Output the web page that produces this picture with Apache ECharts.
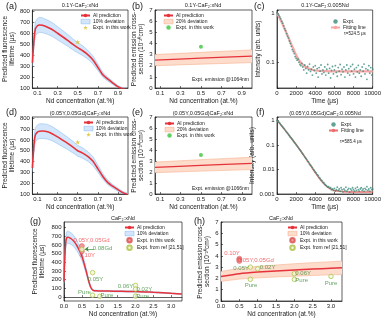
<!DOCTYPE html>
<html>
<head>
<meta charset="utf-8">
<title>Nd lifetime and cross-section</title>
<script src="https://cdn.jsdelivr.net/npm/echarts@6.0.0/dist/echarts.min.js"></script>
<style>
  html, body { margin: 0; padding: 0; background: #fff; }
  #chart { width: 384px; height: 319px; }
</style>
</head>
<body>
<div id="chart"></div>
<script>
// ---- values ----

// (a) 0.1Y-CaF2:xNd, predicted lifetime (us)
const aConc = [0.05, 0.06, 0.07, 0.08, 0.1, 0.12, 0.15, 0.2, 0.25, 0.3, 0.35, 0.4, 0.45, 0.5, 0.55, 0.6, 0.65, 0.7, 0.75, 0.8, 0.85, 0.9, 0.95, 1.0]
const aLife = [330, 470, 580, 640, 668, 675, 672, 655, 632, 600, 568, 535, 500, 468, 440, 405, 358, 290, 220, 180, 145, 112, 92, 80]
const aLifeHi = [365, 515, 640, 705, 735, 745, 740, 720, 695, 660, 625, 590, 550, 515, 485, 445, 395, 320, 242, 198, 160, 123, 101, 88]
const aLifeLo = [297, 423, 522, 576, 601, 608, 605, 590, 569, 540, 511, 482, 450, 421, 396, 365, 322, 261, 198, 162, 131, 101, 83, 72]
const aExpt = [[0.5, 520]]

// (b) 0.1Y-CaF2:xNd, emission cross-section (1e-20 cm2)
const bConc = [0.05, 0.5, 1.0]
const bCross = [2.5, 2.68, 2.86]
const bCrossHi = [3.0, 3.2, 3.42]
const bCrossLo = [2.0, 2.14, 2.28]
const bExpt = [[0.5, 3.7]]

// (c) 0.1Y-CaF2:0.005Nd decay
const cDecay = [
  [0, 1.0], [100, 0.95], [200, 0.9], [300, 0.83], [400, 0.76], [500, 0.68], [600, 0.62], [700, 0.55], [800, 0.48], [900, 0.44],
  [1000, 0.38], [1100, 0.34], [1200, 0.31], [1300, 0.27], [1400, 0.24], [1500, 0.21], [1600, 0.18], [1700, 0.165], [1800, 0.15], [1900, 0.13],
  [2000, 0.12], [2100, 0.11], [2200, 0.115], [2300, 0.1], [2400, 0.09], [2500, 0.085], [2600, 0.095], [2700, 0.08], [2800, 0.07], [2900, 0.088],
  [3000, 0.075], [3100, 0.06], [3200, 0.082], [3300, 0.07], [3400, 0.092], [3500, 0.065], [3600, 0.072], [3700, 0.055], [3800, 0.08], [3900, 0.068],
  [4000, 0.085], [4100, 0.06], [4200, 0.074], [4300, 0.05], [4400, 0.078], [4500, 0.066], [4600, 0.088], [4700, 0.058], [4800, 0.07], [4900, 0.062],
  [5000, 0.08], [5100, 0.055], [5200, 0.072], [5300, 0.09], [5400, 0.06], [5500, 0.075], [5600, 0.048], [5700, 0.068], [5800, 0.082], [5900, 0.058],
  [6000, 0.07], [6100, 0.085], [6200, 0.062], [6300, 0.052], [6400, 0.078], [6500, 0.066], [6600, 0.09], [6700, 0.056], [6800, 0.072], [6900, 0.064],
  [7000, 0.08], [7100, 0.05], [7200, 0.07], [7300, 0.088], [7400, 0.06], [7500, 0.074], [7600, 0.055], [7700, 0.082], [7800, 0.066], [7900, 0.09],
  [8000, 0.058], [8100, 0.072], [8200, 0.05], [8300, 0.078], [8400, 0.064], [8500, 0.086], [8600, 0.06], [8700, 0.07], [8800, 0.052], [8900, 0.08],
  [9000, 0.066], [9100, 0.092], [9200, 0.058], [9300, 0.074], [9400, 0.045], [9500, 0.07], [9600, 0.085], [9700, 0.06], [9800, 0.078], [9900, 0.055], [10000, 0.072]
]
const cFitTime = [0, 250, 500, 750, 1000, 1250, 1500, 1750, 2000, 2250, 2500, 3000, 3500, 4000, 5000, 6000, 8000, 10000]
const cFit = [1.0, 0.8, 0.64, 0.5, 0.39, 0.3, 0.23, 0.18, 0.14, 0.115, 0.098, 0.08, 0.072, 0.068, 0.066, 0.065, 0.065, 0.065]

// (d) (0.05Y,0.05Gd)CaF2:xNd, predicted lifetime (us)
const dConc = [0.05, 0.06, 0.07, 0.08, 0.1, 0.12, 0.15, 0.2, 0.25, 0.3, 0.35, 0.4, 0.45, 0.5, 0.55, 0.6, 0.65, 0.7, 0.75, 0.8, 0.85, 0.9, 0.95, 1.0]
const dLife = [340, 490, 595, 648, 672, 680, 682, 675, 655, 628, 598, 568, 535, 500, 478, 448, 405, 335, 262, 205, 170, 140, 112, 96]
const dLifeHi = [374, 539, 655, 713, 739, 748, 750, 743, 721, 691, 658, 625, 589, 550, 526, 493, 446, 369, 288, 226, 187, 154, 123, 106]
const dLifeLo = [306, 441, 536, 583, 605, 612, 614, 608, 590, 565, 538, 511, 482, 450, 430, 403, 365, 302, 236, 185, 153, 126, 101, 86]
const dExpt = [[0.5, 580]]

// (e) (0.05Y,0.05Gd)CaF2:xNd, emission cross-section
const eConc = [0.05, 0.5, 1.0]
const eCross = [2.42, 2.6, 2.78]
const eCrossHi = [2.9, 3.12, 3.34]
const eCrossLo = [1.94, 2.08, 2.22]
const eExpt = [[0.5, 3.55]]

// (f) (0.05Y,0.05Gd)CaF2:0.005Nd decay
const fDecay = [
  [0, 1.0], [100, 0.92], [200, 0.86], [300, 0.78], [400, 0.68], [500, 0.61], [600, 0.55], [700, 0.49], [800, 0.44], [900, 0.38],
  [1000, 0.34], [1100, 0.31], [1200, 0.27], [1300, 0.24], [1400, 0.21], [1500, 0.19], [1600, 0.17], [1700, 0.15], [1800, 0.13], [1900, 0.118],
  [2000, 0.104], [2100, 0.092], [2200, 0.081], [2300, 0.071], [2400, 0.063], [2500, 0.056], [2600, 0.049], [2700, 0.043], [2800, 0.038], [2900, 0.033],
  [3000, 0.029], [3100, 0.026], [3200, 0.022], [3300, 0.02], [3400, 0.017], [3500, 0.015], [3600, 0.0135], [3700, 0.012], [3800, 0.0102], [3900, 0.0092],
  [4000, 0.008], [4100, 0.0072], [4200, 0.0062], [4300, 0.0057], [4400, 0.0048], [4500, 0.0044], [4600, 0.0038], [4700, 0.0035], [4800, 0.003], [4900, 0.0029],
  [5000, 0.0025], [5100, 0.0023], [5200, 0.0021], [5300, 0.0019], [5400, 0.002], [5500, 0.0017], [5600, 0.0018], [5700, 0.0015], [5800, 0.0016], [5900, 0.0014],
  [6000, 0.0017], [6100, 0.0013], [6200, 0.0015], [6300, 0.0019], [6400, 0.0014], [6500, 0.0016], [6600, 0.0013], [6700, 0.0018], [6800, 0.0015], [6900, 0.0012],
  [7000, 0.0016], [7100, 0.0014], [7200, 0.0019], [7300, 0.0013], [7400, 0.0015], [7500, 0.0017], [7600, 0.0012], [7700, 0.0016], [7800, 0.0014], [7900, 0.0018],
  [8000, 0.0015], [8100, 0.0013], [8200, 0.0017], [8300, 0.0014], [8400, 0.0019], [8500, 0.0015], [8600, 0.0013], [8700, 0.0016], [8800, 0.0018], [8900, 0.0014],
  [9000, 0.0016], [9100, 0.0013], [9200, 0.0017], [9300, 0.0015], [9400, 0.002], [9500, 0.0014], [9600, 0.0016], [9700, 0.0013], [9800, 0.0018], [9900, 0.0015], [10000, 0.0016]
]
const fFitTime = [0, 500, 1000, 1500, 2000, 2500, 3000, 3500, 4000, 4500, 5000, 5500, 6000, 7000, 8000, 10000]
const fFit = [1.0, 0.6, 0.34, 0.19, 0.105, 0.056, 0.029, 0.015, 0.0075, 0.004, 0.0024, 0.0017, 0.0014, 0.00125, 0.0012, 0.0012]

// (g) CaF2:xNd, lifetime over a wide range
const gConc = [0.0, 0.02, 0.04, 0.06, 0.08, 0.1, 0.13, 0.17, 0.2, 0.25, 0.3, 0.35, 0.4, 0.45, 0.5, 0.55, 0.6, 0.65, 0.7, 0.75, 0.8, 0.85, 0.9, 1.0, 1.25, 1.5, 1.75, 2.0, 2.25, 2.5, 2.75, 3.0, 3.3]
const gLife = [180, 420, 590, 660, 685, 690, 688, 680, 672, 655, 630, 600, 562, 520, 470, 405, 330, 250, 170, 110, 82, 74, 72, 71, 69, 67, 65, 63, 60, 55, 50, 43, 36]
const gLifeHi = [198, 462, 649, 726, 754, 759, 757, 748, 739, 721, 693, 660, 618, 572, 517, 446, 363, 275, 187, 121, 90, 81, 79, 78, 76, 74, 72, 69, 66, 61, 55, 47, 40]
const gLifeLo = [162, 378, 531, 594, 617, 621, 619, 612, 605, 590, 567, 540, 506, 468, 423, 365, 297, 225, 153, 99, 74, 67, 65, 64, 62, 60, 59, 57, 54, 50, 45, 39, 32]
const gOwnConc = [0.5, 0.5]
const gOwnLife = [588, 528]
const gRefConc = [0.5, 0.8, 0.8, 1.0, 2.0, 2.0, 2.0]
const gRefLife = [550, 282, 22, 10, 135, 92, 12]
const gOwnTag = ['0.05Y,0.05Gd', '0.10Y']
const gOwnTagAt = [[0.77, 650], [0.65, 485]]
const gRefTag = ['0.08Gd', '0.05Y', 'Pure', 'Pure', '0.06Y', '0.02Y', 'Pure']
const gRefTagAt = [[1.08, 560], [0.88, 205], [0.57, 58], [1.2, 15], [1.72, 128], [2.25, 88], [2.2, 10]]

// (h) CaF2:xNd, cross-section over a wide range
const hConc = [0, 0.5, 1.0, 1.5, 2.0, 2.5, 3.0, 3.3]
const hCross = [2.18, 2.42, 2.56, 2.66, 2.75, 2.83, 2.9, 2.94]
const hCrossHi = [2.62, 2.9, 3.07, 3.19, 3.3, 3.4, 3.48, 3.53]
const hCrossLo = [1.74, 1.94, 2.05, 2.13, 2.2, 2.26, 2.32, 2.35]
const hOwnConc = [0.5, 0.5, 0.5]
const hOwnCross = [3.75, 3.65, 3.55]
const hRefConc = [0.8, 1.0, 0.8, 2.0, 2.0, 3.0]
const hRefCross = [3.0, 2.85, 1.92, 2.42, 1.92, 2.18]
const hOwnTag = ['0.10Y', '0.05Y,0.05Gd']
const hOwnTagAt = [[0.3, 4.25], [0.95, 3.6]]
const hRefTag = ['0.05Y', '0.02Y', 'Pure', '0.06Y', 'Pure', 'Pure']
const hRefTagAt = [[0.55, 2.9], [1.27, 2.98], [0.82, 1.4], [2.24, 2.45], [2.2, 1.85], [3.0, 1.6]]

// tick labels
const concTicks = [0.1, 0.3, 0.5, 0.7, 0.9]
const lifeTicks = [100, 200, 300, 400, 500, 600, 700, 800]
const lifeTicksWide = [0, 100, 200, 300, 400, 500, 600, 700, 800]
const concTicksWide = [0, 0.5, 1.0, 1.5, 2.0, 2.5, 3.0]

// ---- styling ----
const FONT = 'Liberation Sans'
const INK = '#1a1a1a'
const RED = '#e6333b'
const BLUE_FILL = '#d3e6fb'
const BLUE_EDGE = '#92c1f2'
const ORANGE_FILL = '#fddccb'
const ORANGE_EDGE = '#f6b190'
const YELLOW = '#d8c02a'
const GREEN = '#3cc43c'
const TEAL = '#3b8b7a'
const OWN = '#f08282'
const REF = '#a9c23f'
const TAG_RED = '#ec4a4e'
const TAG_GREEN = '#3f8f3f'
const STAR = 'path://M5,0L6.2,3.6L10,3.8L7,6.1L8.1,9.8L5,7.6L1.9,9.8L3,6.1L0,3.8L3.8,3.6Z'

const pairs = (xs, ys) => xs.map((x, i) => [x, ys[i]])

const grids = [
  { left: 32, top: 10, width: 96, height: 78 }, // a
  { left: 155, top: 10, width: 97, height: 78 }, // b
  { left: 277, top: 10, width: 96, height: 78 }, // c
  { left: 32, top: 117, width: 96, height: 77 }, // d
  { left: 155, top: 117, width: 97, height: 77 }, // e
  { left: 277, top: 117, width: 96, height: 77 }, // f
  { left: 64, top: 222, width: 118, height: 79 }, // g
  { left: 221, top: 222, width: 121, height: 79 } // h
].map(g => Object.assign({ show: true, borderColor: INK, borderWidth: 0.7, containLabel: false }, g))

function axis(grid, c) {
  const ax = {
    type: c.log ? 'log' : 'value',
    gridIndex: grid,
    min: c.min,
    max: c.max,
    name: c.name,
    nameLocation: 'middle',
    nameGap: c.gap,
    nameTextStyle: { fontSize: 6.5, fontFamily: FONT, color: INK, lineHeight: 7.5 },
    axisLine: { show: true, lineStyle: { color: INK, width: 0.7 } },
    axisTick: { show: true, inside: true, length: 2, lineStyle: { color: INK, width: 0.6 } },
    axisLabel: { fontSize: 6, fontFamily: FONT, color: INK, margin: 2.5 },
    splitLine: { show: false }
  }
  if (c.log) ax.logBase = 10
  if (c.interval) ax.interval = c.interval
  if (c.labels) {
    ax.axisLabel.customValues = c.labels
    ax.axisTick.customValues = c.labels
  }
  if (c.fmt) ax.axisLabel.formatter = c.fmt
  return ax
}

const decade = v => {
  const e = Math.log10(v)
  return Math.abs(e - Math.round(e)) < 0.01 ? String(+v.toPrecision(1)) : ''
}
const oneDecimal = v => v.toFixed(1)
const plain = v => String(v)

const CONC = 'Nd concentration (at.%)'
const LIFE = 'Predicted fluorescence\nlifetime (μs)'
const CROSS = 'Predicted emission cross-\nsection (10⁻²⁰cm²)'

const xAxes = [
  axis(0, { min: 0.05, max: 1.0, labels: concTicks, name: CONC, gap: 8 }),
  axis(1, { min: 0.05, max: 1.0, labels: concTicks, name: CONC, gap: 8 }),
  axis(2, { min: 0, max: 10000, interval: 2000, fmt: plain, name: 'Time (μs)', gap: 8 }),
  axis(3, { min: 0.05, max: 1.0, labels: concTicks, name: CONC, gap: 8 }),
  axis(4, { min: 0.05, max: 1.0, labels: concTicks, name: CONC, gap: 8 }),
  axis(5, { min: 0, max: 10000, interval: 2000, fmt: plain, name: 'Time (μs)', gap: 8 }),
  axis(6, { min: 0, max: 3.3, labels: concTicksWide, fmt: oneDecimal, name: CONC, gap: 9 }),
  axis(7, { min: 0, max: 3.3, labels: concTicksWide, fmt: oneDecimal, name: CONC, gap: 9 })
]

const yAxes = [
  axis(0, { min: 100, max: 812, labels: lifeTicks, name: LIFE, gap: 12 }),
  axis(1, { min: 0, max: 7, interval: 1, name: CROSS, gap: 8 }),
  axis(2, { log: true, min: 0.03, max: 1.15, fmt: decade, name: 'Intensity (arb. units)', gap: 14 }),
  axis(3, { min: 100, max: 812, labels: lifeTicks, name: LIFE, gap: 12 }),
  axis(4, { min: 0, max: 7, interval: 1, name: CROSS, gap: 8 }),
  axis(5, { log: true, min: 0.001, max: 1.4, fmt: decade, name: 'Intensity (arb. units)', gap: 18 }),
  axis(6, { min: -45, max: 865, labels: lifeTicksWide, name: LIFE, gap: 18 }),
  axis(7, { min: 0, max: 7, interval: 1, name: CROSS, gap: 8 })
]

// ---- series builders ----
// deviation band: filled polygon between the low and high arrays, placed by the axes
function band(g, name, xs, lo, hi, fill, edge) {
  const rows = xs.map((x, i) => [x, lo[i], hi[i]])
  return {
    name, type: 'custom', xAxisIndex: g, yAxisIndex: g, silent: true, z: 1,
    itemStyle: { color: fill },
    encode: { x: 0, y: [1, 2] },
    data: rows,
    renderItem(params, api) {
      if (params.dataIndex !== 0) return null
      const top = rows.map(r => api.coord([r[0], r[2]]))
      const bottom = rows.map(r => api.coord([r[0], r[1]]))
      const cs = params.coordSys
      return {
        type: 'group',
        clipPath: { type: 'rect', shape: { x: cs.x, y: cs.y, width: cs.width, height: cs.height } },
        children: [
          { type: 'polygon', shape: { points: top.concat(bottom.slice().reverse()) }, style: { fill, stroke: null } },
          { type: 'polyline', shape: { points: top }, style: { fill: null, stroke: edge, lineWidth: 0.6 } },
          { type: 'polyline', shape: { points: bottom }, style: { fill: null, stroke: edge, lineWidth: 0.6 } }
        ]
      }
    }
  }
}

function curve(g, name, xs, ys, width) {
  return { name, type: 'line', xAxisIndex: g, yAxisIndex: g, symbol: 'none', smooth: 0.2, silent: true,
    data: pairs(xs, ys), lineStyle: { color: RED, width }, itemStyle: { color: RED }, z: 3 }
}

function dots(g, name, data, symbol, size, style) {
  return { name, type: 'scatter', xAxisIndex: g, yAxisIndex: g, symbol, symbolSize: size, silent: true,
    data, itemStyle: style, z: 4 }
}

function tags(g, at, texts, color, extra) {
  return Object.assign({ type: 'scatter', xAxisIndex: g, yAxisIndex: g, symbolSize: 1, silent: true, data: at,
    itemStyle: { color: 'rgba(0,0,0,0)' },
    label: { show: true, position: 'inside', formatter: p => texts[p.dataIndex], color, fontSize: 6, fontFamily: FONT },
    z: 5 }, extra)
}

const ownStyle = { color: OWN, borderColor: '#d94c4c', borderWidth: 0.6 }
const refStyle = { color: '#f3f7dc', borderColor: REF, borderWidth: 0.9 }

const series = [
  // (a)
  band(0, 'a|10% deviation', aConc, aLifeLo, aLifeHi, BLUE_FILL, BLUE_EDGE),
  curve(0, 'a|AI prediction', aConc, aLife, 1.6),
  dots(0, 'a|Expt. in this work', aExpt, STAR, 5, { color: YELLOW }),
  // (b)
  band(1, 'b|20% deviation', bConc, bCrossLo, bCrossHi, ORANGE_FILL, ORANGE_EDGE),
  curve(1, 'b|AI prediction', bConc, bCross, 1.2),
  dots(1, 'b|Expt. in this work', bExpt, 'circle', 4, { color: GREEN }),
  // (c)
  { name: 'c|Fitting line', type: 'line', xAxisIndex: 2, yAxisIndex: 2, symbol: 'none', smooth: 0.3, silent: true,
    data: pairs(cFitTime, cFit), lineStyle: { color: '#f6a6a6', width: 2.2 }, itemStyle: { color: '#f6a6a6' }, z: 2 },
  dots(2, 'c|Expt.', cDecay, 'circle', 1.8, { color: TEAL }),
  // (d)
  band(3, 'd|10% deviation', dConc, dLifeLo, dLifeHi, BLUE_FILL, BLUE_EDGE),
  curve(3, 'd|AI prediction', dConc, dLife, 1.6),
  dots(3, 'd|Expt. in this work', dExpt, STAR, 5, { color: YELLOW }),
  // (e)
  band(4, 'e|20% deviation', eConc, eCrossLo, eCrossHi, ORANGE_FILL, ORANGE_EDGE),
  curve(4, 'e|AI prediction', eConc, eCross, 1.2),
  dots(4, 'e|Expt. in this work', eExpt, 'circle', 4, { color: GREEN }),
  // (f)
  { name: 'f|Fitting line', type: 'line', xAxisIndex: 5, yAxisIndex: 5, symbol: 'none', smooth: 0.3, silent: true,
    data: pairs(fFitTime, fFit), lineStyle: { color: '#ee6f6f', width: 1.5 }, itemStyle: { color: '#ee6f6f' }, z: 2 },
  dots(5, 'f|Expt.', fDecay, 'circle', 1.8, { color: TEAL }),
  // (g)
  band(6, 'g|10% deviation', gConc, gLifeLo, gLifeHi, BLUE_FILL, BLUE_EDGE),
  curve(6, 'g|AI prediction', gConc, gLife, 1.5),
  dots(6, 'g|Expt. in this work', pairs(gOwnConc, gOwnLife), 'circle', 5, ownStyle),
  dots(6, 'g|Expt. from ref [21,51]', pairs(gRefConc, gRefLife), 'circle', 4.5, refStyle),
  tags(6, gOwnTagAt, gOwnTag, TAG_RED),
  tags(6, gRefTagAt, gRefTag, TAG_GREEN, {
    markLine: { silent: true, symbol: ['none', 'arrow'], symbolSize: 4, label: { show: false },
      lineStyle: { color: TAG_GREEN, width: 0.7, type: 'solid' },
      data: [[{ coord: [0.84, 556] }, { coord: [0.58, 552] }]] }
  }),
  // (h)
  band(7, 'h|10% deviation', hConc, hCrossLo, hCrossHi, ORANGE_FILL, ORANGE_EDGE),
  curve(7, 'h|AI prediction', hConc, hCross, 1.5),
  dots(7, 'h|Expt. in this work', pairs(hOwnConc, hOwnCross), 'circle', 5, ownStyle),
  dots(7, 'h|Expt. from ref [21,51]', pairs(hRefConc, hRefCross), 'circle', 4.5, refStyle),
  tags(7, hOwnTagAt, hOwnTag, TAG_RED),
  tags(7, hRefTagAt, hRefTag, TAG_GREEN)
]

// ---- legends ----
function legend(left, top, data) {
  return {
    left, top, orient: 'vertical', padding: 0, itemGap: 1, itemWidth: 9, itemHeight: 4.5,
    selectedMode: false,
    formatter: n => n.split('|')[1],
    textStyle: { fontSize: 5, fontFamily: FONT, color: INK, padding: [0, 0, 0, -2] },
    data
  }
}
const bandItem = (name, fill, edge) => ({ name, icon: 'rect', itemStyle: { color: fill, borderColor: edge, borderWidth: 0.6 } })

const legends = [
  legend(80, 13, ['a|AI prediction', bandItem('a|10% deviation', BLUE_FILL, BLUE_EDGE), 'a|Expt. in this work']),
  legend(163, 13, ['b|AI prediction', bandItem('b|20% deviation', ORANGE_FILL, ORANGE_EDGE), 'b|Expt. in this work']),
  legend(330, 19, ['c|Expt.', 'c|Fitting line']),
  legend(83, 120, ['d|AI prediction', bandItem('d|10% deviation', BLUE_FILL, BLUE_EDGE), 'd|Expt. in this work']),
  legend(164, 121, ['e|AI prediction', bandItem('e|20% deviation', ORANGE_FILL, ORANGE_EDGE), 'e|Expt. in this work']),
  legend(328, 122, ['f|Expt.', 'f|Fitting line']),
  legend(124, 225, ['g|AI prediction', bandItem('g|10% deviation', BLUE_FILL, BLUE_EDGE), 'g|Expt. in this work', 'g|Expt. from ref [21,51]']),
  legend(287, 225, ['h|AI prediction', bandItem('h|10% deviation', ORANGE_FILL, ORANGE_EDGE), 'h|Expt. in this work', 'h|Expt. from ref [21,51]'])
]

// ---- titles, panel letters, notes ----
const text = (t, left, top, size, align) => ({
  text: t, left, top, padding: 0, textAlign: align || 'center',
  textStyle: { fontSize: size, fontWeight: 'normal', fontFamily: FONT, color: INK }
})

const titles = [
  text('(a)', 6, 2, 9, 'left'),
  text('(b)', 132, 2, 9, 'left'),
  text('(c)', 254, 2, 9, 'left'),
  text('(d)', 6, 108, 9, 'left'),
  text('(e)', 132, 108, 9, 'left'),
  text('(f)', 256, 108, 9, 'left'),
  text('(g)', 30, 217, 9, 'left'),
  text('(h)', 194, 217, 9, 'left'),
  text('0.1Y-CaF₂:xNd', 80, 2.5, 5.5),
  text('0.1Y-CaF₂:xNd', 203, 2.5, 5.5),
  text('0.1Y-CaF₂:0.005Nd', 325, 2.5, 5.5),
  text('(0.05Y,0.05Gd)CaF₂:xNd', 80, 110, 5.5),
  text('(0.05Y,0.05Gd)CaF₂:xNd', 203, 110, 5.5),
  text('(0.05Y,0.05Gd)CaF₂:0.005Nd', 325, 110, 5.5),
  text('CaF₂:xNd', 123, 215, 5.5),
  text('CaF₂:xNd', 281, 215, 5.5),
  text('Expt. emission @1064nm', 249, 77, 5, 'right'),
  text('Expt. emission @1066nm', 249, 186, 5, 'right'),
  text('τ=524.5 μs', 344, 31, 4.5, 'left'),
  text('τ=585.4 μs', 340, 139, 4.5, 'left')
]

const chart = echarts.init(document.getElementById('chart'), null, { renderer: 'canvas' })
chart.setOption({
  animation: false,
  backgroundColor: '#fff',
  textStyle: { fontFamily: FONT },
  title: titles,
  legend: legends,
  grid: grids,
  xAxis: xAxes,
  yAxis: yAxes,
  series
})
</script>
</body>
</html>
